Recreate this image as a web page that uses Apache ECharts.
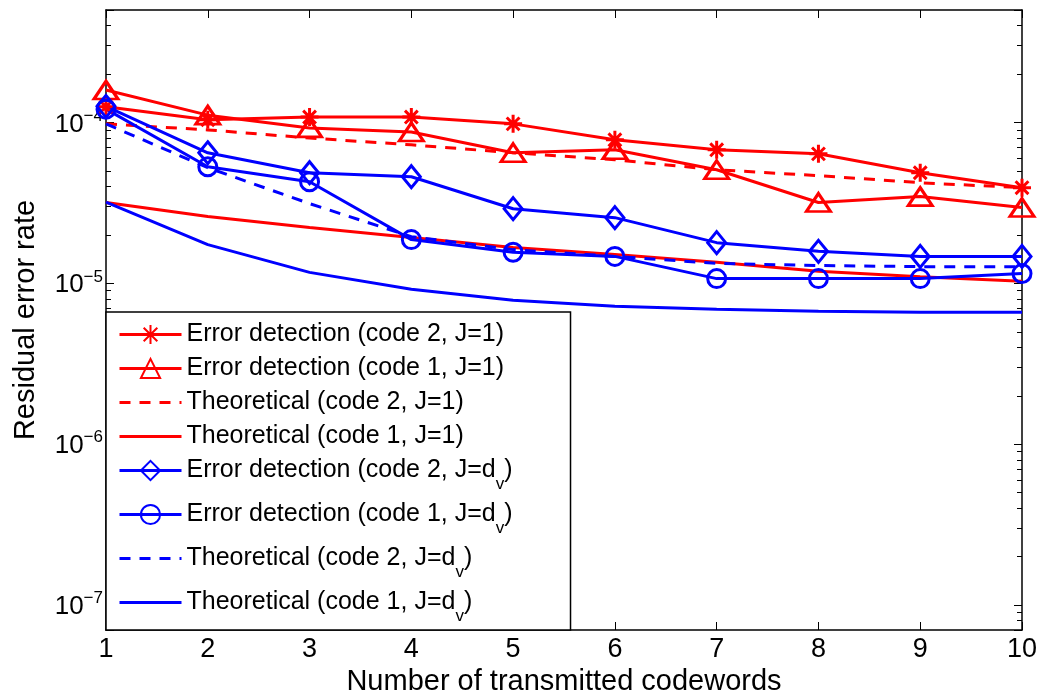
<!DOCTYPE html>
<html><head><meta charset="utf-8">
<script src="https://cdn.jsdelivr.net/npm/echarts@6/dist/echarts.min.js"></script>
<style>html,body{margin:0;padding:0;background:#fff}#c{width:1049px;height:698px}</style>
</head><body><div id="c"></div>
<script>
const codewords = [1, 2, 3, 4, 5, 6, 7, 8, 9, 10];
const xTicks = [1, 2, 3, 4, 5, 6, 7, 8, 9, 10];
const yDecades = [1e-7, 1e-6, 1e-5, 1e-4];

const detCode2J1 = [1.25e-4, 1.04e-4, 1.08e-4, 1.08e-4, 9.8e-5, 7.8e-5, 6.76e-5, 6.38e-5, 4.87e-5, 3.93e-5];
const detCode1J1 = [1.59e-4, 1.11e-4, 9.25e-5, 8.73e-5, 6.48e-5, 6.76e-5, 5.08e-5, 3.18e-5, 3.46e-5, 2.96e-5];
const theoCode2J1 = [9.8e-5, 8.99e-5, 8.0e-5, 7.26e-5, 6.48e-5, 5.86e-5, 5.08e-5, 4.67e-5, 4.22e-5, 3.93e-5];
const theoCode1J1 = [3.18e-5, 2.6e-5, 2.22e-5, 1.93e-5, 1.67e-5, 1.51e-5, 1.35e-5, 1.19e-5, 1.1e-5, 1.03e-5];
const detCode2Jdv = [1.26e-4, 6.48e-5, 4.87e-5, 4.6e-5, 2.91e-5, 2.56e-5, 1.79e-5, 1.58e-5, 1.47e-5, 1.47e-5];
const detCode1Jdv = [1.21e-4, 5.3e-5, 4.28e-5, 1.87e-5, 1.56e-5, 1.47e-5, 1.07e-5, 1.07e-5, 1.07e-5, 1.15e-5];
const theoCode2Jdv = [9.8e-5, 5.23e-5, 3.13e-5, 1.95e-5, 1.62e-5, 1.47e-5, 1.33e-5, 1.29e-5, 1.27e-5, 1.27e-5];
const theoCode1Jdv = [3.2e-5, 1.74e-5, 1.17e-5, 9.18e-6, 7.85e-6, 7.21e-6, 6.9e-6, 6.71e-6, 6.61e-6, 6.6e-6];

const seriesNames = [
  'Error detection (code 2, J=1)',
  'Error detection (code 1, J=1)',
  'Theoretical (code 2, J=1)',
  'Theoretical (code 1, J=1)',
  'Error detection (code 2, J=d_v)',
  'Error detection (code 1, J=d_v)',
  'Theoretical (code 2, J=d_v)',
  'Theoretical (code 1, J=d_v)'
];

const RED = '#ff0000', BLUE = '#0000ff';
const FONT = '"Liberation Sans", Arial, Helvetica, sans-serif';
const ASTERISK = 'path://M0,-10L0,10M-10,0L10,0M-7.1,-7.1L7.1,7.1M-7.1,7.1L7.1,-7.1';

function pairs(arr) { return codewords.map((x, i) => [x, arr[i]]); }

function mk(name, arr, color, dashed, symbol, size) {
  return {
    name: name, type: 'line', data: pairs(arr),
    xAxisIndex: 0, yAxisIndex: 0,
    lineStyle: { color: color, width: 3, type: dashed ? [11, 9] : 'solid' },
    itemStyle: { color: 'rgba(255,255,255,0)', borderColor: color, borderWidth: 3 },
    symbol: symbol || 'none', symbolSize: size || 0,
    showSymbol: !!symbol, animation: false, z: 3,
    emphasis: { disabled: true }
  };
}

const seriesSpec = [
  [detCode2J1, RED, false, ASTERISK, 18],
  [detCode1J1, RED, false, 'triangle', [24, 18]],
  [theoCode2J1, RED, true, null, 0],
  [theoCode1J1, RED, false, null, 0],
  [detCode2Jdv, BLUE, false, 'diamond', [18, 22]],
  [detCode1Jdv, BLUE, false, 'circle', 18],
  [theoCode2Jdv, BLUE, true, null, 0],
  [theoCode1Jdv, BLUE, false, null, 0]
];
const series = seriesSpec.map((s, i) => mk(seriesNames[i], s[0], s[1], s[2], s[3], s[4]));

const legendData = seriesSpec.map((s, i) => s[3]
  ? { name: seriesNames[i] }
  : { name: seriesNames[i], itemStyle: { opacity: 0, color: 'rgba(0,0,0,0)', borderColor: 'rgba(0,0,0,0)', borderWidth: 0 } });

function isDecade(v) {
  const l = Math.log10(v);
  return Math.abs(l - Math.round(l)) < 1e-6;
}

const axisCommon = {
  axisLine: { show: true, lineStyle: { color: '#000', width: 1.5 } },
  axisTick: { show: true, inside: true, length: 8, lineStyle: { color: '#000', width: 1 } },
  splitLine: { show: false }
};

const chart = echarts.init(document.getElementById('c'), null, { renderer: 'canvas' });
chart.setOption({
  animation: false,
  backgroundColor: '#fff',
  grid: { left: 106, right: 27, top: 10, bottom: 68, containLabel: false, outerBoundsMode: 'none' },
  xAxis: [
    Object.assign({
      type: 'value', min: 1, max: 10, interval: 1, position: 'bottom',
      name: 'Number of transmitted codewords', nameLocation: 'middle', nameGap: 35,
      nameTextStyle: { fontFamily: FONT, fontSize: 29, color: '#000' },
      axisLabel: { fontFamily: FONT, fontSize: 27, color: '#000', margin: 6,
        formatter: v => xTicks.indexOf(v) >= 0 ? String(v) : '' }
    }, axisCommon),
    Object.assign({
      type: 'value', min: 1, max: 10, interval: 1, position: 'top',
      axisLabel: { show: false }
    }, axisCommon)
  ],
  yAxis: [
    Object.assign({
      type: 'log', logBase: 10, min: 7e-8, max: 5e-4, position: 'left',
      name: 'Residual error rate', nameLocation: 'middle', nameGap: 66,
      nameTextStyle: { fontFamily: FONT, fontSize: 29, color: '#000' },
      minorTick: { show: true, splitNumber: 9, length: 5, lineStyle: { color: '#000' } },
      axisLabel: {
        margin: 3, color: '#000',
        formatter: function (v) {
          if (!isDecade(v)) return '';
          const e = Math.round(Math.log10(v));
          if (yDecades.every(d => Math.abs(Math.log10(d) - e) > 1e-6)) return '';
          return '{b|10}{s|\u2212' + Math.abs(e) + '}';
        },
        rich: {
          b: { fontFamily: FONT, fontSize: 26, color: '#000', lineHeight: 30, verticalAlign: 'bottom' },
          s: { fontFamily: FONT, fontSize: 17, color: '#000', lineHeight: 18, verticalAlign: 'top' }
        }
      }
    }, axisCommon),
    Object.assign({
      type: 'log', logBase: 10, min: 7e-8, max: 5e-4, position: 'right',
      minorTick: { show: true, splitNumber: 9, length: 5, lineStyle: { color: '#000' } },
      axisLabel: { show: false }
    }, axisCommon)
  ],
  legend: {
    show: true, orient: 'vertical', left: 106, top: 312,
    itemWidth: 62, itemHeight: 24, itemGap: 9,
    padding: [10, 58, 5, 12],
    backgroundColor: '#fff', borderColor: '#000', borderWidth: 1.5, borderRadius: 0,
    data: legendData,
    selectedMode: false,
    lineStyle: { width: 3 },
    formatter: function (name) {
      if (name.indexOf('d_v') >= 0) {
        const parts = name.split('d_v');
        return '{t|' + parts[0] + 'd}{sub|v}{t|' + parts[1] + '}';
      }
      return '{t|' + name + '}';
    },
    textStyle: {
      fontFamily: FONT, fontSize: 25, color: '#000',
      rich: {
        t: { fontFamily: FONT, fontSize: 25, color: '#000', lineHeight: 28 },
        sub: { fontFamily: FONT, fontSize: 17, color: '#000', lineHeight: 45, verticalAlign: 'bottom' }
      }
    }
  },
  series: series
});
</script>
</body></html>
